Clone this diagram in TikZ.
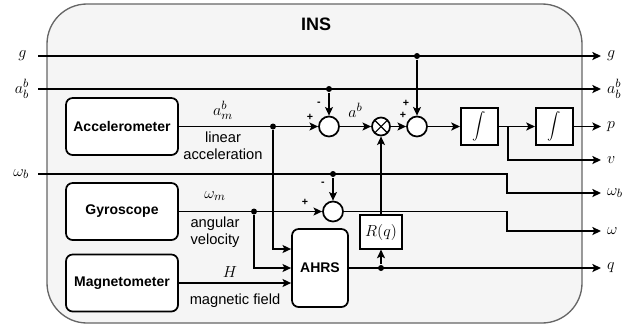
\documentclass[tikz,border=0pt]{standalone}
\usepackage{fontspec}
\setmainfont{Liberation Sans}
\usetikzlibrary{arrows.meta, positioning}

\begin{document}
\begin{tikzpicture}[x=0.75pt, y=-0.75pt, line width=1.3pt,
                >={Stealth[length=6.5pt, width=6pt, inset=1.5pt]},
                sensor/.style={draw=black, rounded corners=5pt, fill=white, minimum width=84pt, minimum height=42.75pt, font=\fontsize{10.5}{12}\selectfont\bfseries},
                ahrsbox/.style={draw=black, rounded corners=5pt, fill=white, minimum width=42pt, minimum height=58.5pt, font=\fontsize{10.5}{12}\selectfont\bfseries},
                intbox/.style={draw=black, fill=white, minimum size=28pt, inner sep=0pt, font=\fontsize{10}{12}\selectfont},
                rqbox/.style={draw=black, fill=white, minimum width=32pt, minimum height=25pt, inner sep=1pt, font=\fontsize{12.5}{14}\selectfont},
                sumnode/.style={draw=black, circle, fill=white, minimum size=15pt, inner sep=0pt},
                mulnode/.style={draw=black, circle, fill=white, minimum size=13.5pt, inner sep=0pt,
                    path picture={\draw[line width=0.8pt] ([shift={(45:6.75pt)}]path picture bounding box.center) -- ([shift={(225:6.75pt)}]path picture bounding box.center);
                                  \draw[line width=0.8pt] ([shift={(135:6.75pt)}]path picture bounding box.center) -- ([shift={(315:6.75pt)}]path picture bounding box.center);}},
                dot/.style={circle, fill=black, minimum size=4.5pt, inner sep=0pt},
                varlabel/.style={font=\fontsize{13}{14}\selectfont, inner sep=1pt},
                textlabel/.style={font=\fontsize{11}{12.5}\selectfont, align=center, inner sep=1pt},
                sign/.style={font=\fontsize{8}{9}\selectfont\bfseries, inner sep=0pt}
            ]
            \useasboundingbox (0,0) rectangle (634,329);

            % Rahmen
            \draw[draw=black!60, fill=black!4, line width=1pt, rounded corners=30pt] (47,4) rectangle (582,323);
            \node[font=\fontsize{13.5}{15}\selectfont\bfseries] (title) at (316,24) {INS};

            % Knoten
            \node[sensor] (acc) at (122,126.5) {Accelerometer};
            \node[sensor] (gyro) at (122,211.5) {Gyroscope};
            \node[sensor] (mag) at (122,283) {Magnetometer};
            \node[sumnode] (s1) at (329,126.5) {};
            \node[mulnode] (mul) at (381,126.5) {};
            \node[sumnode] (s2) at (417,126.5) {};
            \node[intbox] (int1) at (479.5,126.5) {$\displaystyle\int$};
            \node[intbox] (int2) at (554.5,126.5) {$\displaystyle\int$};
            \node[sumnode] (s3) at (333,211.5) {};
            \node[ahrsbox] (ahrs) at (320,268) {AHRS};
            \node[rqbox] (rq) at (381,232) {$R(q)$};

            % Abzweigungen
            \node[dot] (jab) at (329,89) {};
            \node[dot] (jg) at (417,56) {};
            \node[dot] (jacc) at (273,126.5) {};
            \node[dot] (jwb) at (333,174) {};
            \node[dot] (jgyro) at (254,211.5) {};
            \node[dot] (jq) at (381,268) {};
            \coordinate (kx) at (507,0);
            \coordinate (br) at (508,126.5);

            % Ein- und Ausgaenge
            \coordinate (gin) at (38,56);
            \coordinate (abin) at (38,89);
            \coordinate (wbin) at (38,174);
            \coordinate (gout) at (601,56);
            \coordinate (about) at (601,89);
            \coordinate (pout) at (601,126.5);
            \coordinate (vout) at (601,160);
            \coordinate (wbout) at (601,193);
            \coordinate (wout) at (601,231);
            \coordinate (qout) at (601,268);
            \node[varlabel, left=7pt] at (gin) {$g$};
            \node[varlabel, left=5pt] at (abin) {$a_b^b$};
            \node[varlabel, left=5pt] at (wbin) {$\omega_b$};
            \node[varlabel, right=3pt] at (gout) {$g$};
            \node[varlabel, right=3pt] at (about) {$a_b^b$};
            \node[varlabel, right=3pt] at (pout) {$p$};
            \node[varlabel, right=3pt] at (vout) {$v$};
            \node[varlabel, right=3pt] at (wbout) {$\omega_b$};
            \node[varlabel, right=3pt] at (wout) {$\omega$};
            \node[varlabel, right=3pt] at (qout) {$q$};

            % Kanten
            \draw[->] (gin) -- (gout);
            \draw[->] (abin) -- (about);
            \draw[->] (jab) -- (s1);
            \draw[->] (jg) -- (s2);
            \draw[->] (acc) -- (s1);
            \draw[->] (s1) -- (mul) node[midway, above=5pt, varlabel] {$a^b$};
            \draw[->] (mul) -- (s2);
            \draw[->] (s2) -- (int1);
            \draw[->] (int1) -- (int2);
            \draw[->] (int2) -- (pout);
            \draw[->] (br) |- (vout);
            \draw[->] (jacc) |- ([yshift=14.25pt]ahrs.west);
            \draw[->] (wbin) -- (wbin -| kx) |- (wbout);
            \draw[->] (jwb) -- (s3);
            \draw[->] (gyro) -- (s3);
            \draw[->] (jgyro) |- (ahrs.west);
            \draw[->] (mag) -- (mag -| ahrs.west);
            \draw[->] (s3) -- (s3 -| kx) |- (wout);
            \draw[->] (ahrs) -- (qout);
            \draw[->] (jq) -- (rq);
            \draw[->] (rq) -- (mul);

            % Beschriftungen
            \node[varlabel] (lam) at (223,110) {$a_m^b$};
            \node[textlabel] (lacc) at (223,146) {linear\\acceleration};
            \node[varlabel] (lwm) at (215,196) {$\omega_m$};
            \node[textlabel] (lgyro) at (215,232) {angular\\velocity};
            \node[varlabel] (lh) at (230,272) {$H$};
            \node[textlabel] (lmag) at (235,301) {magnetic field};
            \node[sign] at (319,104) {-};
            \node[sign] at (310,117) {+};
            \node[sign] at (406,103) {+};
            \node[sign] at (403,115) {+};
            \node[sign] at (323,184) {-};
            \node[sign] at (305,202) {+};

        \end{tikzpicture}
\end{document}
